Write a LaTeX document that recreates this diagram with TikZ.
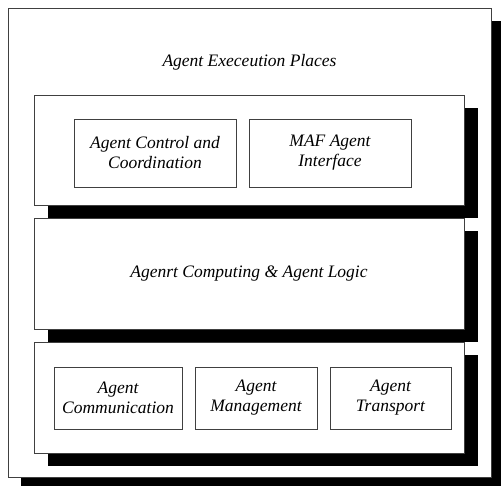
\documentclass[tikz,border=0pt]{standalone}
\usepackage{fontspec}
\setmainfont{Liberation Serif}
\usetikzlibrary{shadows}
\begin{document}
\begin{tikzpicture}[x=1pt,y=-1pt,
  lbl/.style={font=\fontsize{17.5}{20}\selectfont\itshape, align=center},
  panel/.style={draw=black!75, line width=0.7pt, fill=white, inner sep=0pt,
    general shadow={fill=black, shadow xshift=#1, shadow yshift=-13pt}},
  panel/.default=14pt,
  inbox/.style={draw=black!75, line width=0.7pt, fill=white, inner sep=0pt, lbl}]
\useasboundingbox (0,0) rectangle (501,486);
\node[panel=13pt, minimum width=483pt, minimum height=469pt] (outer) at (249.5,242.5) {};
\node[lbl] (title) at (249.5,62) {Agent Execeution Places};
\node[panel, minimum width=430pt, minimum height=110pt] (top) at (249,150) {};
\node[inbox, minimum width=162pt, minimum height=68pt] (ctrl) at (155,153) {Agent Control and\\Coordination};
\node[inbox, minimum width=162pt, minimum height=68pt] (maf) at (330,153) {MAF Agent\\Interface};
\node[panel, minimum width=430pt, minimum height=111pt] (mid) at (249,273.5) {};
\node[lbl] (logic) at (249,274) {Agenrt Computing \& Agent Logic};
\node[panel, minimum width=430pt, minimum height=111pt] (bot) at (249,397.5) {};
\node[inbox, minimum width=128pt, minimum height=62pt] (comm) at (118,398) {Agent\\Communication};
\node[inbox, minimum width=122pt, minimum height=62pt] (mgmt) at (256,398) {Agent\\Management};
\node[inbox, minimum width=121pt, minimum height=62pt] (trans) at (390.5,398) {Agent\\Transport};
\end{tikzpicture}
\end{document}
